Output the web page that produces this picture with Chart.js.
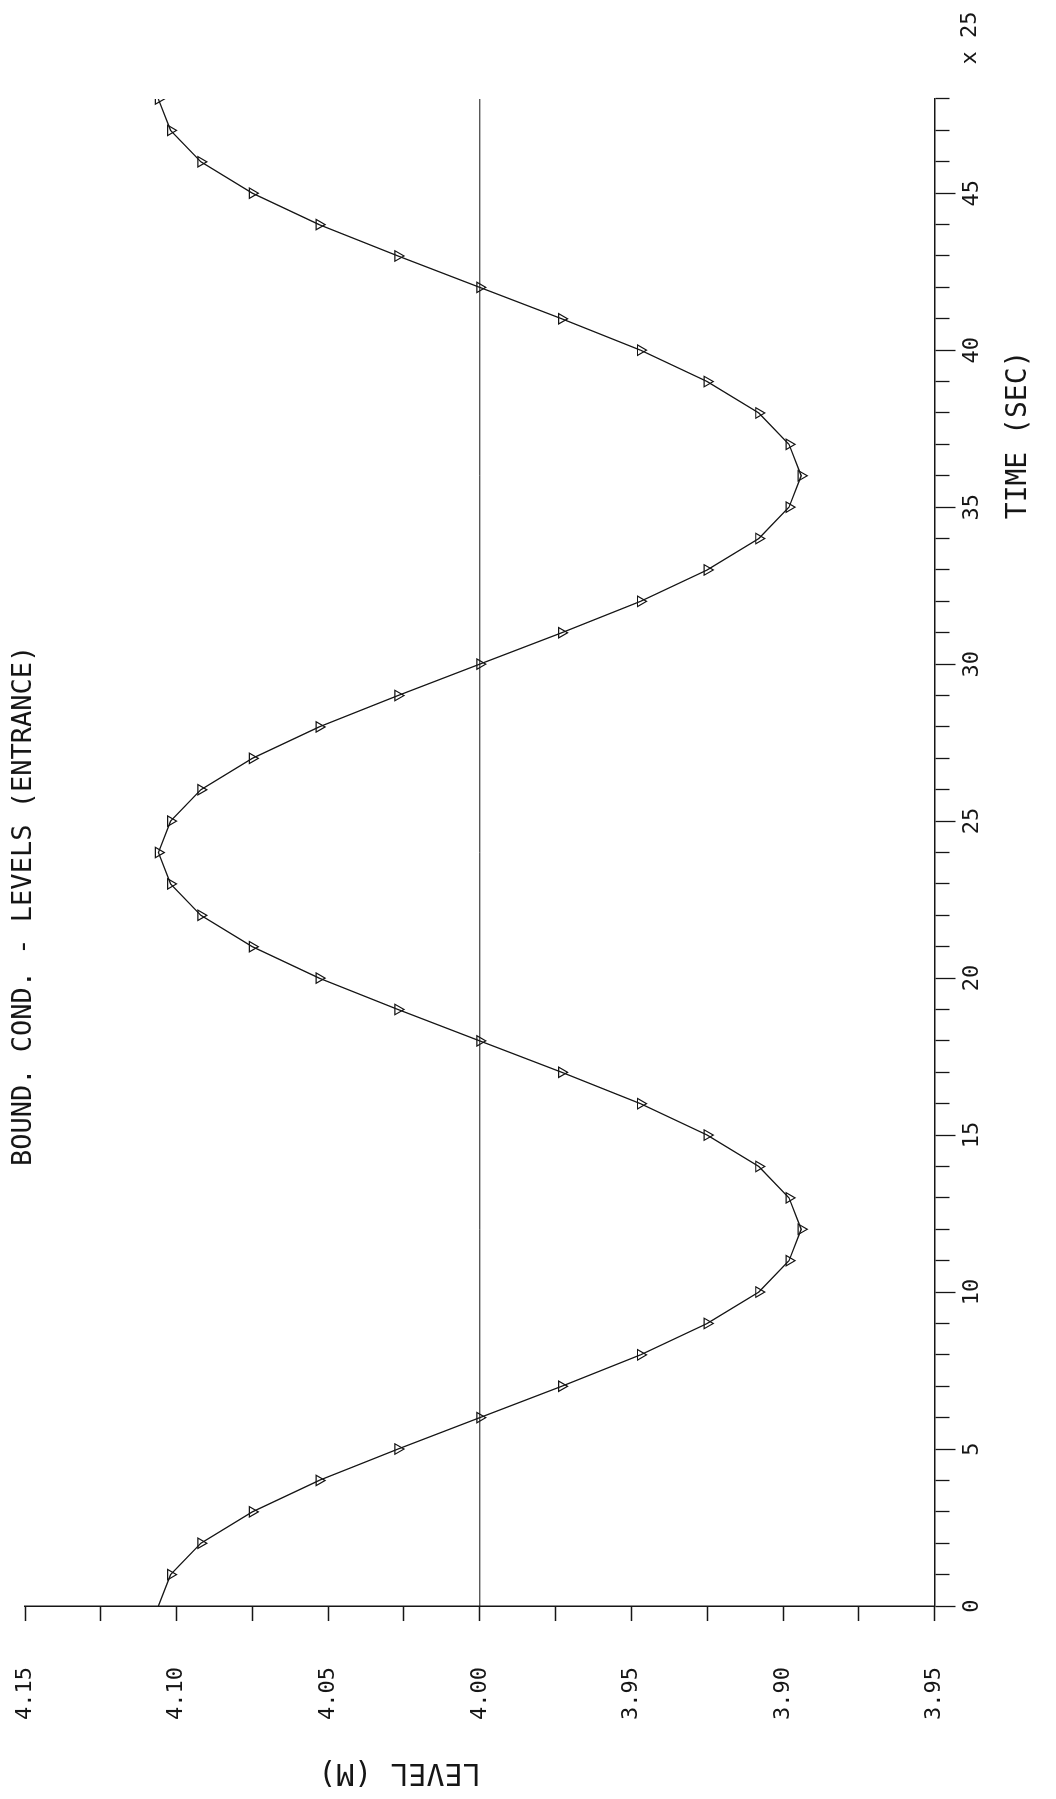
<!DOCTYPE html>
<html>
<head>
<meta charset="utf-8">
<title>Bound. cond. - levels (entrance)</title>
<script src="https://cdn.jsdelivr.net/npm/chart.js@4.4.1/dist/chart.umd.min.js"></script>
<style>
  html, body { margin:0; padding:0; background:#fff; overflow:hidden; }
  /* the plot is drawn landscape, then turned a quarter turn like the original sheet */
  #sheet { position:absolute; left:0; top:0; width:1799px; height:1056px;
           transform-origin:0 0; transform:translateY(1799px) rotate(-90deg); }
</style>
</head>
<body>
<div id="sheet"><canvas id="plot" width="1799" height="1056"></canvas></div>
<script>
// ── data ──
const timeSteps = [0,1,2,3,4,5,6,7,8,9,10,11,12,13,14,15,16,17,18,19,20,21,22,23,24,
                   25,26,27,28,29,30,31,32,33,34,35,36,37,38,39,40,41,42,43,44,45,46,47,48];
const levels    = [4.106,4.102,4.092,4.075,4.053,4.027,4.000,3.973,3.947,3.925,3.908,3.898,3.894,
                   3.898,3.908,3.925,3.947,3.973,4.000,4.027,4.053,4.075,4.092,4.102,4.106,
                   4.102,4.092,4.075,4.053,4.027,4.000,3.973,3.947,3.925,3.908,3.898,3.894,
                   3.898,3.908,3.925,3.947,3.973,4.000,4.027,4.053,4.075,4.092,4.102,4.106];
const refLevel  = 4.00;

const levelTicks      = [4.15, 4.10, 4.05, 4.00, 3.95, 3.90, 3.85];
// last label is printed "3.95" on the original plot
const levelTickLabels = ['4.15','4.10','4.05','4.00','3.95','3.90','3.95'];
const timeTickLabels  = ['0','5','10','15','20','25','30','35','40','45'];

const TITLE = 'BOUND. COND. - LEVELS (ENTRANCE)';
const INK   = '#161616';
const FONT  = '"DejaVu Sans Mono", "Liberation Mono", monospace';

// ─ free texts of the sheet ─
const sheetText = {
  id: 'sheetText',
  afterDraw(chart) {
    const { ctx, chartArea: a, scales: { x, y } } = chart;
    ctx.save();
    ctx.fillStyle = INK;
    ctx.textAlign = 'center';
    ctx.textBaseline = 'middle';

    ctx.font = `27px ${FONT}`;
    ctx.fillText(TITLE, x.getPixelForValue(22.3), a.top - 1);

    ctx.font = `28px ${FONT}`;
    ctx.fillText('TIME (SEC)', x.getPixelForValue(37.3), a.bottom + 84);

    ctx.font = `22px ${FONT}`;
    ctx.fillText('x 25', a.right + 61, a.bottom + 36);

    ctx.translate(a.left - 166, y.getPixelForValue(4.0265));
    ctx.rotate(-Math.PI / 2);
    ctx.font = `30px ${FONT}`;
    ctx.fillText('LEVEL (M)', 0, 0);
    ctx.restore();
  }
};

const pts = timeSteps.map((t, i) => ({ x: t, y: levels[i] }));
const ref = [{ x: timeSteps[0], y: refLevel }, { x: timeSteps[timeSteps.length - 1], y: refLevel }];

new Chart(document.getElementById('plot'), {
  type: 'line',
  data: {
    datasets: [
      {
        data: pts,
        borderColor: INK,
        borderWidth: 1.3,
        tension: 0,
        pointStyle: 'triangle',
        pointRotation: 180,
        pointRadius: timeSteps.map(t => t === 0 ? 0 : 6),
        pointBackgroundColor: 'rgba(0,0,0,0)',
        pointBorderColor: INK,
        pointBorderWidth: 1.2
      },
      {
        data: ref,
        borderColor: INK,
        borderWidth: 1,
        pointRadius: 0
      }
    ]
  },
  options: {
    responsive: false,
    animation: false,
    layout: { padding: { left: 79, right: 99, top: 25, bottom: 71 } },
    plugins: { legend: { display: false }, title: { display: false }, tooltip: { enabled: false } },
    scales: {
      x: {
        type: 'linear',
        min: 0, max: 48,
        border: { color: INK, width: 1.5 },
        grid: {
          drawOnChartArea: false,
          tickLength: 24,          // label gap lives in the tick length, the dash hides the rest
          tickColor: INK,
          tickWidth: 1.3,
          tickBorderDash: ctx => (ctx.tick && ctx.tick.value % 5 !== 0) ? [14, 60] : [20, 60]
        },
        ticks: {
          stepSize: 1,
          autoSkip: false,
          maxRotation: 0,
          padding: 0,
          color: INK,
          font: { family: FONT, size: 22 },
          callback: v => timeTickLabels.includes(String(v)) ? String(v) : ''
        }
      },
      y: {
        type: 'linear',
        min: 3.85, max: 4.15,
        border: { color: INK, width: 1.5 },
        grid: {
          drawOnChartArea: false,
          tickLength: 61,
          tickColor: INK,
          tickWidth: 1.3,
          // drawn from the label side: skip 46px, then a 15px mark at the axis
          tickBorderDash: [0, 46, 15, 100]
        },
        ticks: {
          stepSize: 0.025,
          autoSkip: false,
          padding: 0,
          color: INK,
          font: { family: FONT, size: 22 },
          callback: v => {
            const i = levelTicks.findIndex(l => Math.abs(l - v) < 1e-6);
            return i >= 0 ? levelTickLabels[i] : '';
          }
        }
      }
    }
  },
  plugins: [sheetText]
});
</script>
</body>
</html>
